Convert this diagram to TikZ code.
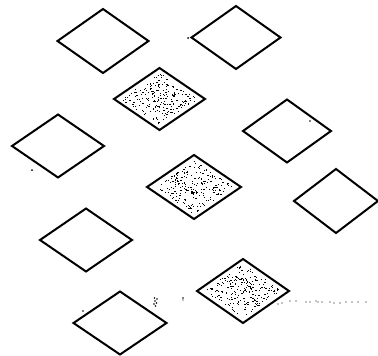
\documentclass[tikz,border=0pt]{standalone}
\begin{document}
\begin{tikzpicture}[x=1pt,y=-1pt,
  rhombline/.style={line width=2pt, line join=miter, black},
  speck/.style={fill=black}]
\useasboundingbox (0,0) rectangle (378,356);
\newcommand\myrhomb[4]{\draw[rhombline] (#1-#3,#2) -- (#1,#2-#4) -- (#1+#3,#2) -- (#1,#2+#4) -- cycle;}
\newcommand\mystip[5]{%
  \foreach \k in {1,...,#5}{%
    \pgfmathsetmacro\ss{rnd*0.84-0.42}%
    \pgfmathsetmacro\tt{rnd*0.84-0.42}%
    \pgfmathsetmacro\px{#1+#3*(\ss+\tt)}%
    \pgfmathsetmacro\py{#2+#4*(\ss-\tt)}%
    \pgfmathsetmacro\ww{0.5+rnd*1.2}%
    \fill[speck] (\px-\ww/2,\py-0.5) rectangle (\px+\ww/2,\py+0.5);
  }}
\pgfmathsetseed{1234}
% plain rhombi
\myrhomb{103}{41}{45.5}{32}
\myrhomb{236}{37.5}{44.5}{31.5}
\myrhomb{58}{146}{46}{31.5}
\myrhomb{287}{131}{44}{31.5}
\myrhomb{336}{201}{42}{32}
\myrhomb{86}{240}{46}{31.5}
\myrhomb{120}{323}{46.5}{31.5}
% stippled rhombi
\mystip{159.5}{99}{45.5}{31}{210}
\myrhomb{159.5}{99}{45.5}{31}
\mystip{194}{187}{47}{32}{220}
\myrhomb{194}{187}{47}{32}
\mystip{243}{291}{46}{32}{220}
\myrhomb{243}{291}{46}{32}
% stray specks
\fill[speck] (32,170) circle[radius=1];
\fill[speck] (188,38) circle[radius=1];
\fill[speck] (310,121) circle[radius=0.9];
\fill[speck] (83,311) circle[radius=0.8];
\fill[speck] (183,298) circle[radius=0.8];
\fill[speck] (183,300) circle[radius=0.7];
\foreach \dx/\dy in {0/0,1.5/2,-1/3,0.5/5,2/-2,-0.5/-3}{\fill[speck] (155+\dx,301+\dy) circle[radius=0.9];}
\foreach \xx/\yy in {278/304,282/303,290/301,296/301,306/302,310/302,316/301,318/302,322/302,330/302,334/303,340/303,346/302,352/302,358/302,366/302}{\fill[speck] (\xx,\yy) circle[radius=0.6];}
\end{tikzpicture}
\end{document}
